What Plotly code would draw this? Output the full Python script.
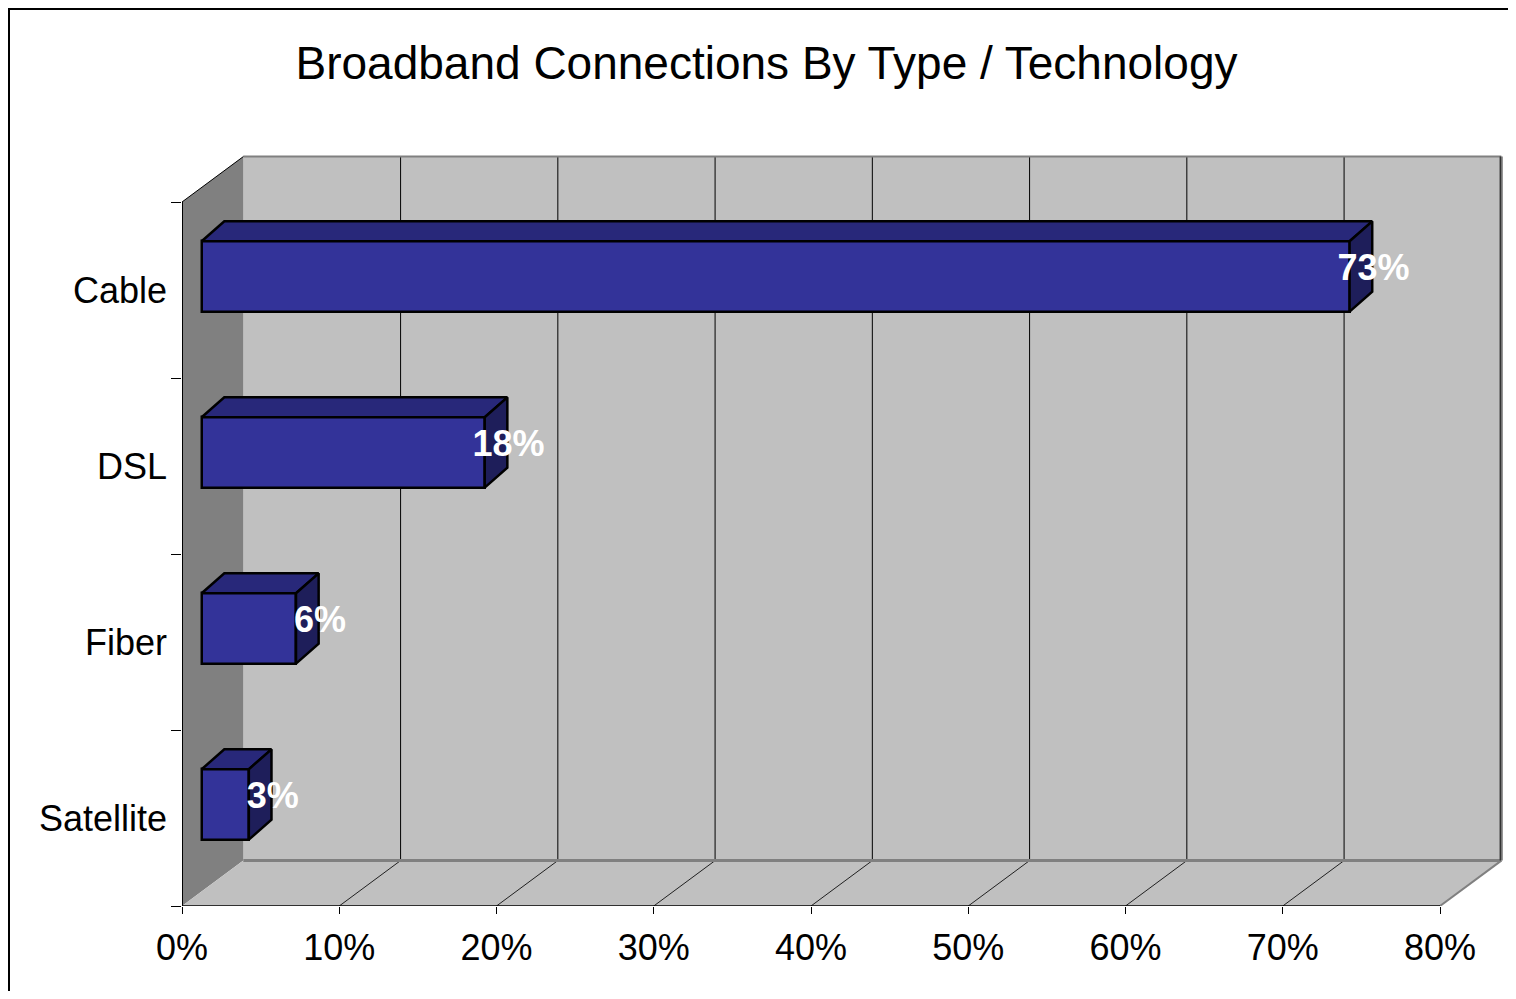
import plotly.graph_objects as go

# ---------------- data ----------------
categories = ["Satellite", "Fiber", "DSL", "Cable"]
values = [3, 6, 18, 73]
x_tick_values = [0, 10, 20, 30, 40, 50, 60, 70, 80]
x_tick_labels = ["0%", "10%", "20%", "30%", "40%", "50%", "60%", "70%", "80%"]
title_text = "Broadband Connections By Type / Technology"

# ---------------- geometry (style) ----------------
FONT = "Liberation Sans, Arial, sans-serif"
W, Hpx = 1500, 983          # page has an 8px body margin
ML, MR, MT, MB = 174, 2, 142, 85
PXX = 15.725   # px per % on the front plane
PXY = 176.0    # px per category on the front plane
XMAX = 80
NCAT = len(categories)
xr = (W - ML - MR) / PXX
yr = (Hpx - MT - MB) / PXY

DX, DY = 3.9, 0.258          # depth of the 3D box (data units)
DX0, DY0 = 1.25, 0.077       # bar front offset
DX1, DY1 = 2.69, 0.19        # bar back offset
BH = 0.2                     # half bar height

centers = [i + 0.5 for i in range(NCAT)]

FRONT = "#333399"
TOP = "#28287A"
SIDE = "#1E1E5A"
WALL = "#C0C0C0"
SIDEWALL = "#808080"

fig = go.Figure()

# front faces
fig.add_trace(go.Bar(
    orientation="h",
    x=values,
    base=[DX0] * NCAT,
    y=[c + DY0 for c in centers],
    width=2 * BH,
    marker=dict(color=FRONT, line=dict(color="black", width=2.5)),
    hoverinfo="skip",
    showlegend=False,
))

# top and right faces
for c, v in zip(centers, values):
    fig.add_trace(go.Scatter(
        x=[DX0, v + DX0, v + DX1, DX1, DX0],
        y=[c + DY0 + BH, c + DY0 + BH, c + DY1 + BH, c + DY1 + BH, c + DY0 + BH],
        mode="lines", fill="toself", fillcolor=TOP,
        line=dict(color="black", width=2.5),
        hoverinfo="skip", showlegend=False,
    ))
    fig.add_trace(go.Scatter(
        x=[v + DX0, v + DX1, v + DX1, v + DX0, v + DX0],
        y=[c + DY0 - BH, c + DY1 - BH, c + DY1 + BH, c + DY0 + BH, c + DY0 - BH],
        mode="lines", fill="toself", fillcolor=SIDE,
        line=dict(color="black", width=2.5),
        hoverinfo="skip", showlegend=False,
    ))

# data labels
fig.add_trace(go.Scatter(
    x=[v + (DX0 + DX1) / 2 + 0.8 for v in values],
    y=[c + 0.11 for c in centers],
    mode="text",
    text=["<b>%d%%</b>" % v for v in values],
    textposition="middle center",
    textfont=dict(family=FONT, size=36, color="white"),
    hoverinfo="skip", showlegend=False,
))

# ---------------- walls, floor, grid ----------------
shapes = []
def path(pts):
    return "M " + " L ".join("%g,%g" % p for p in pts) + " Z"

# back wall
shapes.append(dict(type="rect", xref="x", yref="y", x0=DX, x1=XMAX + DX, y0=DY, y1=NCAT + DY,
                   fillcolor=WALL, line=dict(width=0), layer="below"))
# back wall gridlines
for k in x_tick_values[1:-1]:
    shapes.append(dict(type="line", xref="x", yref="y", x0=k + DX, x1=k + DX, y0=DY, y1=NCAT + DY,
                       line=dict(color="black", width=1), layer="below"))
# side wall
shapes.append(dict(type="path", xref="x", yref="y",
                   path=path([(0, 0), (0, NCAT), (DX, NCAT + DY), (DX, DY)]),
                   fillcolor=SIDEWALL, line=dict(width=0), layer="below"))
# floor
shapes.append(dict(type="path", xref="x", yref="y",
                   path=path([(0, 0), (XMAX, 0), (XMAX + DX, DY), (DX, DY)]),
                   fillcolor=WALL, line=dict(width=0), layer="below"))
# floor gridlines
for k in x_tick_values[1:-1]:
    shapes.append(dict(type="line", xref="x", yref="y", x0=k, x1=k + DX, y0=0, y1=DY,
                       line=dict(color="#202020", width=1), layer="below"))
# floor back edge
shapes.append(dict(type="line", xref="x", yref="y", x0=DX, x1=XMAX + DX, y0=DY, y1=DY,
                   line=dict(color=SIDEWALL, width=3), layer="below"))
# floor right edge
shapes.append(dict(type="line", xref="x", yref="y", x0=XMAX, x1=XMAX + DX, y0=0, y1=DY,
                   line=dict(color=SIDEWALL, width=2), layer="below"))
# back wall top edge
shapes.append(dict(type="line", xref="x", yref="y", x0=DX, x1=XMAX + DX, y0=NCAT + DY, y1=NCAT + DY,
                   line=dict(color=SIDEWALL, width=2), layer="below"))
# back wall right edge
shapes.append(dict(type="line", xref="x", yref="y", x0=XMAX + DX, x1=XMAX + DX, y0=DY, y1=NCAT + DY,
                   line=dict(color=SIDEWALL, width=3), layer="below"))
shapes.append(dict(type="line", xref="x", yref="y", x0=XMAX + DX - 0.06, x1=XMAX + DX - 0.06, y0=DY, y1=NCAT + DY,
                   line=dict(color="#333333", width=1.5), layer="below"))
# side wall top diagonal
shapes.append(dict(type="line", xref="x", yref="y", x0=0, x1=DX, y0=NCAT, y1=NCAT + DY,
                   line=dict(color="black", width=1), layer="below"))
# axis lines
shapes.append(dict(type="line", xref="x", yref="y", x0=0, x1=0, y0=0, y1=NCAT,
                   line=dict(color="black", width=2), layer="below"))
shapes.append(dict(type="line", xref="x", yref="y", x0=0, x1=XMAX, y0=0, y1=0,
                   line=dict(color="black", width=1.5), layer="below"))
# chart border (left and top edges visible)
pw, ph = (W - ML - MR), (Hpx - MT - MB)
shapes.append(dict(type="rect", xref="paper", yref="paper",
                   x0=(1 - ML) / pw, x1=1.2,
                   y0=-0.3, y1=(Hpx - MB - 1) / ph,
                   line=dict(color="black", width=2), fillcolor="rgba(0,0,0,0)"))

fig.update_layout(
    width=W, height=Hpx,
    margin=dict(l=ML, r=MR, t=MT, b=MB, pad=0),
    paper_bgcolor="white", plot_bgcolor="white",
    font=dict(family=FONT, color="black"),
    title=dict(text=title_text, font=dict(family=FONT, size=46, color="black"),
               x=758.5 / W, xanchor="center", y=1 - 55 / Hpx, yanchor="middle"),
    shapes=shapes,
    showlegend=False,
    bargap=0,
    xaxis=dict(range=[0, xr], tickvals=x_tick_values, ticktext=x_tick_labels,
               ticks="outside", ticklen=7, tickcolor="black", tickwidth=1,
               showgrid=False, zeroline=False, showline=False,
               tickfont=dict(family=FONT, size=36, color="black"),
               ticklabelstandoff=3, fixedrange=True),
    yaxis=dict(range=[0, yr], tickvals=centers, ticktext=categories, ticks="",
               showgrid=False, zeroline=False, showline=False,
               tickfont=dict(family=FONT, size=36, color="black"),
               ticklabelstandoff=14,
               minor=dict(tickvals=list(range(NCAT + 1)), ticks="outside", ticklen=10,
                          tickcolor="black", tickwidth=1, showgrid=False),
               fixedrange=True),
)

fig.write_html("out.html")
